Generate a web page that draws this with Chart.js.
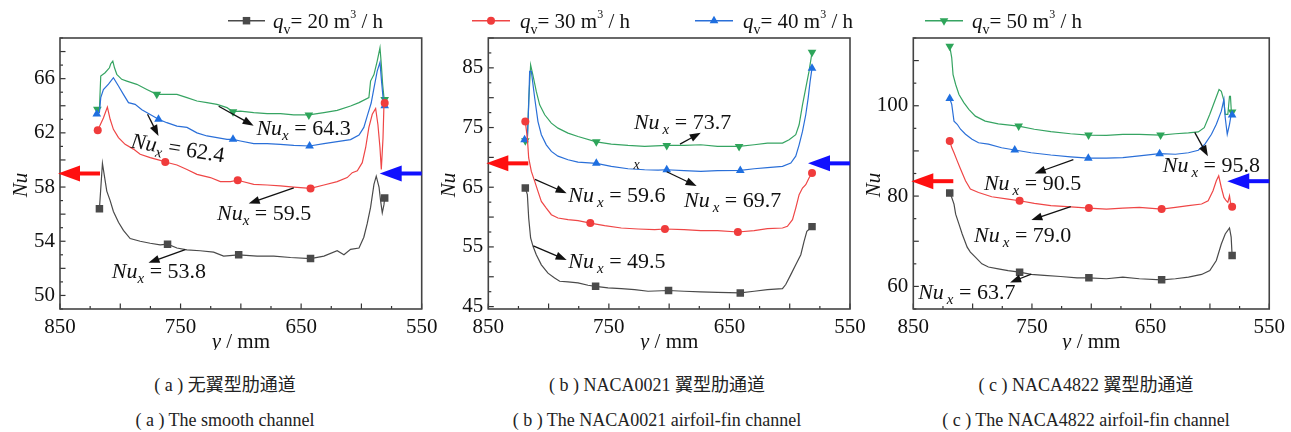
<!DOCTYPE html>
<html lang="zh-CN">
<head>
<meta charset="UTF-8">
<title>Nu 沿 y 分布</title>
<script src="https://cdn.jsdelivr.net/npm/chart.js"></script>
<style>
    body { margin: 0; background: #fff; }
    #fig { position: relative; width: 1291px; height: 432px; overflow: hidden;
           font-family: 'Liberation Serif', 'Noto Sans CJK SC', serif; }
    canvas { position: absolute; top: 0; }
    .cap { position: absolute; text-align: center; font-size: 18px; color: #222; white-space: nowrap; }
</style>
</head>
<body>
<div id="fig">
    <canvas id="cA" width="450" height="350" style="left:0px"></canvas>
    <canvas id="cB" width="450" height="350" style="left:430px"></canvas>
    <canvas id="cC" width="450" height="350" style="left:841px"></canvas>

    <div class="cap" style="left:75px;width:300px;top:370px">( a ) 无翼型肋通道</div>
    <div class="cap" style="left:507px;width:300px;top:370px">( b ) NACA0021 翼型肋通道</div>
    <div class="cap" style="left:936px;width:300px;top:370px">( c ) NACA4822 翼型肋通道</div>
    <div class="cap" style="left:75px;width:300px;top:410px">( a ) The smooth channel</div>
    <div class="cap" style="left:457px;width:400px;top:410px">( b ) The NACA0021 airfoil-fin channel</div>
    <div class="cap" style="left:886px;width:400px;top:410px">( c ) The NACA4822 airfoil-fin channel</div>
</div>

<script>
    // ---- data: [y (mm), Nu] ----
    // (a) smooth channel
    const smooth20 = [[817.3,56.4],[814.8,59.75],[811.2,57.7],[808.4,57.0],[805.7,56.2],[801.5,55.4],[797.4,54.8],[791.8,54.2],[783.5,54.0],[775.2,53.85],[766.9,53.73],[760.8,53.78],[753,53.5],[744.7,53.36],[733.7,53.3],[722.6,53.2],[714.3,52.9],[701.8,53.0],[686.5,52.9],[672.7,52.9],[658.8,52.8],[642.2,52.72],[631.1,52.9],[620.1,53.3],[614.5,53.0],[609,53.4],[602,53.5],[598,54.3],[595.2,55.3],[592.4,56.5],[589.6,58.2],[587.7,58.8],[585.4,58.0],[584.1,57.0],[582.7,56.1],[581.3,56.7],[580.7,57.2]];
    const smooth30 = [[818.7,62.19],[814,63.1],[810.7,63.9],[808.4,63.0],[805.7,62.26],[801.5,61.65],[796,61.15],[789.1,60.8],[783.5,60.42],[775.2,60.17],[766.9,59.97],[762.7,59.85],[753,59.63],[744.7,59.3],[736.4,58.94],[725.3,58.7],[717,58.4],[708.7,58.4],[702.6,58.5],[689.3,58.2],[678.2,58.15],[667.2,58.08],[656.1,58.0],[642.2,57.9],[631.1,58.15],[620.1,58.4],[611.8,58.7],[607.6,59.06],[603.4,59.2],[599.3,59.8],[596.5,60.9],[593.8,62.4],[591,63.37],[588.2,63.8],[586.3,62.6],[584.6,60.9],[583.5,59.3],[582.1,61.6],[581.3,64.1],[580.7,64.2]];
    const smooth40 = [[819.5,63.4],[817.3,63.5],[816.2,64.6],[814,65.2],[809.8,65.6],[805.7,66.07],[801.5,65.46],[797.4,64.84],[793.2,64.23],[787.7,64.1],[782.1,63.7],[775.2,63.36],[768.3,63.0],[761.4,62.75],[753,62.5],[744.7,62.4],[736.4,62.0],[728.1,61.77],[719.8,61.65],[711.5,61.52],[706.5,61.52],[700.4,61.4],[689.3,61.2],[678.2,61.2],[667.2,61.15],[656.1,61.08],[643,61.03],[631.1,61.2],[620.1,61.35],[609,61.5],[602,61.84],[598,62.4],[595.2,63.24],[591.9,64.2],[589.6,65.3],[586.9,66.56],[584.6,67.2],[583.3,65.8],[581.8,64.35],[580.7,64.0]];
    const smooth50 = [[819,63.74],[817.3,63.74],[816.2,66.2],[812.6,66.44],[809,66.8],[807.9,67.1],[806.2,67.3],[804.8,66.8],[802.9,66.32],[798.8,65.95],[794.6,65.82],[786.3,65.58],[778,65.2],[769.7,64.84],[761.4,64.84],[753,64.84],[744.7,64.6],[736.4,64.35],[728.1,64.23],[719.8,64.1],[711.5,63.86],[706.5,63.56],[700.4,63.6],[689.3,63.49],[678.2,63.42],[667.2,63.42],[656.1,63.32],[643.6,63.32],[631.1,63.49],[620.1,63.66],[609,63.98],[602,64.23],[593.8,64.6],[592.4,65.82],[589.6,66.3],[586.9,67.3],[584.6,68.28],[583.5,67.05],[582.4,65.58],[581.3,64.6],[580.7,64.47]];
    const smoothMk20 = [817.3, 760.8, 701.8, 642.2, 580.7];
    const smoothMk30 = [818.7, 762.7, 702.6, 642.2, 580.7];
    const smoothMk40 = [819.5, 768.3, 706.5, 643, 580.7];
    const smoothMk50 = [819, 769.7, 706.5, 643.6, 580.7];

    // (b) NACA0021
    const n0021_20 = [[819.3,64.87],[817.6,63.75],[816.5,59.85],[814.9,56.5],[812.9,55.1],[810.2,53.7],[806,52.0],[800.5,50.6],[795,49.8],[790.8,49.25],[783.9,49.13],[775.6,48.97],[767.3,48.58],[761,48.4],[750.7,48.13],[739.7,48.0],[728.6,47.85],[717.5,47.57],[700.5,47.7],[687.6,47.57],[673.8,47.46],[659.9,47.4],[641,47.3],[629.5,47.57],[618.5,47.85],[606,48.0],[603.3,48.7],[599.1,50.36],[595,52.0],[590.8,53.7],[588.1,55.94],[585.8,57.6],[581.5,58.4]];
    const n0021_30 = [[819.3,76.0],[817.6,73.23],[816.5,69.9],[814.3,67.65],[811.5,65.98],[808.8,64.3],[806,62.63],[801.9,61.5],[797.7,60.4],[792.2,59.84],[783.9,59.56],[775.6,59.4],[765.4,59.0],[753.5,58.56],[739.7,58.17],[725.8,58.0],[712,57.89],[703.5,58.0],[687.6,57.9],[673.8,57.72],[659.9,57.72],[643,57.5],[629.5,57.72],[618.5,58.06],[606,58.17],[601.9,58.45],[597.7,59.56],[595,61.5],[592.2,63.75],[589.4,64.86],[586.7,65.42],[584,66.54],[581.5,67.38]];
    const n0021_40 = [[819.9,72.95],[817.6,73.2],[816.5,78.8],[815.7,84.4],[814.3,84.4],[811.5,79.9],[808.8,76.0],[806,73.8],[801.9,72.1],[797.7,71.0],[792.2,70.2],[783.9,69.6],[775.6,69.2],[760.4,69.0],[748,68.5],[734.1,68.1],[720.3,67.93],[709.2,67.88],[702,67.93],[687.6,67.77],[673.8,67.66],[659.9,67.77],[641,67.82],[629.5,68.1],[618.5,68.3],[606,68.5],[599.1,69.05],[595,70.2],[592.2,72.1],[589.4,74.35],[586.7,77.14],[584.7,79.93],[583.1,82.7],[581.5,84.95]];
    const n0021_50 = [[819.3,72.8],[817.6,72.95],[816.5,79.4],[814.9,85.5],[813,83.8],[810.2,81.05],[807.4,78.8],[803.2,77.14],[797.7,75.74],[792.2,74.9],[783.9,74.07],[775.6,73.5],[760.4,72.6],[748,72.23],[734.1,72.0],[720.3,71.84],[702,72.0],[687.6,72.0],[673.8,72.12],[659.9,71.84],[642,71.84],[629.5,72.12],[618.5,72.4],[606,72.4],[600.5,72.95],[595,73.8],[592.2,75.46],[589.4,78.8],[586.7,81.6],[584,84.4],[581.5,87.6]];
    const n0021Mk20 = [819.3, 761, 700.5, 641, 581.5];
    const n0021Mk30 = [819.3, 765.4, 703.5, 643, 581.5];
    const n0021Mk40 = [819.9, 760.4, 702, 641, 581.5];
    const n0021Mk50 = [819.3, 760.4, 702, 642, 581.5];

    // (c) NACA4822
    const n4822_20 = [[819.3,80.66],[817.6,79.7],[815.7,78.24],[814.3,76.0],[811.5,73.8],[808.8,71.6],[804.6,68.7],[801.9,67.6],[797.7,66.5],[792.2,65.0],[786.7,64.3],[778.4,63.9],[770.1,63.5],[760.4,63.16],[750.7,62.65],[739.7,62.43],[725.8,62.2],[712,61.9],[702,61.9],[687.2,61.7],[673.4,62.06],[659.5,61.7],[640.7,61.47],[629.1,61.7],[618.1,62.06],[607,62.65],[600.1,63.5],[594.6,65.74],[590.4,69.4],[587.1,71.6],[583.5,72.94],[582.1,70.9],[581.3,66.84]];
    const n4822_30 = [[819.3,92.2],[817.6,90.74],[815.7,89.6],[813,87.8],[810.2,86.0],[806,83.4],[801.9,81.54],[795,80.8],[783.9,79.85],[770.1,79.34],[760.4,78.97],[748,78.4],[734.1,77.87],[720.3,77.65],[702,77.35],[687.2,77.13],[673.4,77.35],[659.5,77.5],[640.7,77.13],[629.1,77.5],[618.1,77.87],[607,78.24],[601.5,78.97],[597.4,81.2],[594.6,83.4],[592.6,84.5],[590.4,81.9],[588.2,79.7],[586.3,78.97],[584.9,78.6],[583.5,80.07],[582.7,78.6],[581.3,77.65]];
    const n4822_40 = [[819.3,101.6],[817.6,100.3],[815.7,96.6],[813,95.9],[810.2,94.8],[806,93.7],[800.5,92.6],[795,91.8],[786.7,91.5],[775.6,90.7],[764.5,90.2],[750.7,89.6],[734.1,89.1],[717.5,88.7],[702.5,88.4],[687.2,88.4],[673.4,88.5],[659.5,88.9],[642.4,89.4],[629.1,89.26],[618.1,89.6],[609.8,90.15],[604.2,91.5],[598.7,93.7],[594.6,95.9],[590.4,98.8],[588.2,101.4],[587.1,97.35],[585.4,93.7],[583.5,95.9],[582.1,98.1],[581.3,97.94],[579.6,97.8]];
    const n4822_50 = [[819.3,113.2],[817.6,110.6],[816.5,106.9],[814.3,104.7],[811.5,102.5],[807.4,100.7],[803.2,99.2],[797.7,97.7],[789.4,96.6],[778.4,96.0],[761.2,95.5],[748,94.8],[734.1,94.26],[717.5,93.8],[702.3,93.5],[687.2,93.46],[673.4,93.68],[659.5,93.68],[641.6,93.5],[629.1,93.8],[618.1,94.0],[609.8,94.2],[604.8,95.15],[600.1,98.1],[596,101.0],[592.3,103.6],[590.4,103.2],[588.5,101.4],[587.1,98.1],[584.9,98.1],[583.5,102.1],[582.7,102.1],[581.9,98.5],[581.3,98.6]];
    const n4822Mk20 = [819.3, 760.4, 702, 640.7, 581.3];
    const n4822Mk30 = [819.3, 760.4, 702, 640.7, 581.3];
    const n4822Mk40 = [819.3, 764.5, 702.5, 642.4, 581.3];
    const n4822Mk50 = [819.3, 761.2, 702.3, 641.6, 581.3];

    // flow rates in the legends
    const flowRates = ['20', '30', '40', '50'];

    // local Nu_x labels: [value, text y(mm), text Nu, arrow from y, Nu, arrow to y, Nu, rotation]
    const notesA = [['64.3', 687.1, 61.87, 718.4, 63.96, 689.4, 62.53, 0],
                    ['62.4', 791.8, 60.91, 777.4, 63.37, 768.3, 61.77, 9],
                    ['59.5', 719.8, 55.6, 656.1, 57.94, 693.5, 56.78, 0],
                    ['53.8', 807.0, 51.32, 746.1, 53.39, 776.6, 52.41, 0]];
    const notesB = [['73.7', 729.2, 74.69, 691.0, 72.23, 673.8, 74.12, 0],
                    ['69.7', 687.7, 61.64, 702.0, 67.59, 677.2, 65.2, 0],
                    ['59.6', 783.6, 62.57, 811.3, 66.32, 785.0, 63.98, 0],
                    ['49.5', 783.6, 51.43, 812.7, 55.16, 785.0, 52.82, 0]];
    const notesC = [['95.8', 639.8, 85.28, 612.8, 94.11, 601.7, 88.81, 0],
                    ['90.5', 790.5, 81.31, 715.1, 88.09, 747.7, 85.0, 0],
                    ['79.0', 798.8, 69.84, 717.3, 77.65, 750.5, 74.69, 0],
                    ['63.7', 845.9, 57.2, 750.5, 62.71, 768.4, 60.88, 0]];

    const SERIF = "'Liberation Serif', 'DejaVu Serif', serif";
    const STY = {
        k: { line: '#4a4a4a', mk: '#4a4a4a', style: 'rect', r: 5.3, rot: 0 },
        r: { line: '#ef4646', mk: '#f03c3c', style: 'circle', r: 4, rot: 0 },
        b: { line: '#2a6fd8', mk: '#1f6fe0', style: 'triangle', r: 5, rot: 0 },
        g: { line: '#36a462', mk: '#2ea55a', style: 'triangle', r: 5, rot: 180 }
    };

    function isMult(v, base, step) {
        const q = (v - base) / step;
        return Math.abs(q - Math.round(q)) < 1e-6;
    }

    function serie(pts, mk, s) {
        return {
            data: pts.map(p => ({ x: p[0], y: p[1] })),
            borderColor: s.line,
            borderWidth: 1.2,
            backgroundColor: s.mk,
            pointBackgroundColor: s.mk,
            pointBorderColor: s.mk,
            pointBorderWidth: 0,
            pointStyle: s.style,
            pointRotation: s.rot,
            pointRadius: ctx => (ctx.raw && mk.includes(ctx.raw.x)) ? s.r : 0,
            tension: 0,
            fill: false
        };
    }

    function marker(ctx, s, x, y) {
        ctx.fillStyle = s.mk;
        ctx.beginPath();
        if (s.style === 'rect') {
            const h = s.r * Math.SQRT1_2;
            ctx.rect(x - h, y - h, 2 * h, 2 * h);
        } else if (s.style === 'circle') {
            ctx.arc(x, y, s.r, 0, Math.PI * 2);
        } else {
            const d = s.rot ? -1 : 1;
            ctx.moveTo(x, y - d * s.r);
            ctx.lineTo(x + s.r * 0.866, y + d * s.r * 0.5);
            ctx.lineTo(x - s.r * 0.866, y + d * s.r * 0.5);
            ctx.closePath();
        }
        ctx.fill();
    }

    function arrow(ctx, x1, y1, x2, y2, head, half, lw) {
        const a = Math.atan2(y2 - y1, x2 - x1);
        ctx.lineWidth = lw;
        ctx.beginPath();
        ctx.moveTo(x1, y1);
        ctx.lineTo(x2 - Math.cos(a) * head * 0.8, y2 - Math.sin(a) * head * 0.8);
        ctx.stroke();
        ctx.beginPath();
        ctx.moveTo(x2, y2);
        ctx.lineTo(x2 - head * Math.cos(a) + half * Math.sin(a), y2 - head * Math.sin(a) - half * Math.cos(a));
        ctx.lineTo(x2 - head * Math.cos(a) - half * Math.sin(a), y2 - head * Math.sin(a) + half * Math.cos(a));
        ctx.closePath();
        ctx.fill();
    }

    // pieces of mixed text: [text, font, dy, extra gap]
    function richText(ctx, x, y, parts) {
        let cx = x;
        parts.forEach(p => {
            ctx.font = p[1];
            ctx.fillText(p[0], cx, y + (p[2] || 0));
            cx += ctx.measureText(p[0]).width + (p[3] || 0);
        });
        return cx;
    }

    const decor = {
        id: 'decor',
        afterDraw(chart, args, o) {
            const { ctx, chartArea: a, scales: { x, y } } = chart;
            const left = chart.canvas.offsetLeft;
            ctx.save();

            // frame + inward ticks
            ctx.strokeStyle = '#333';
            ctx.lineWidth = 1.2;
            x.ticks.forEach(t => {
                if (!isMult(t.value, 550, 25)) return;
                const len = isMult(t.value, 550, 50) ? 5.5 : 3;
                const px = x.getPixelForValue(t.value);
                ctx.beginPath(); ctx.moveTo(px, a.bottom); ctx.lineTo(px, a.bottom - len); ctx.stroke();
            });
            y.ticks.forEach(t => {
                if (!isMult(t.value, o.yBase, o.yStep)) return;
                const len = isMult(t.value, o.yBase, o.yStep * 2) ? 5.5 : 3;
                const py = y.getPixelForValue(t.value);
                ctx.beginPath(); ctx.moveTo(a.left, py); ctx.lineTo(a.left + len, py); ctx.stroke();
            });
            ctx.lineWidth = 1.6;
            ctx.strokeStyle = '#444';
            ctx.strokeRect(a.left, a.top, a.width, a.height);

            // flow direction arrows
            const fy = y.getPixelForValue(o.flowY);
            ctx.strokeStyle = ctx.fillStyle = '#ff1010';
            arrow(ctx, a.left + 40, fy, a.left - 2, fy, 22, 8, 4);
            ctx.strokeStyle = ctx.fillStyle = '#1010ff';
            arrow(ctx, a.right, fy, a.right - 42, fy, 22, 8, 4);

            // Nu_x notes
            ctx.fillStyle = '#111';
            ctx.strokeStyle = '#111';
            ctx.textBaseline = 'alphabetic';
            ctx.textAlign = 'left';
            o.notes.forEach(n => {
                const tx = x.getPixelForValue(n[1]), ty = y.getPixelForValue(n[2]);
                ctx.save();
                ctx.translate(tx, ty);
                ctx.rotate(n[7] * Math.PI / 180);
                richText(ctx, 0, 0, [['Nu', 'italic 22px ' + SERIF, 0, o.gap],
                                     ['x', 'italic 15px ' + SERIF, 5],
                                     [' = ' + n[0], '22px ' + SERIF, 0]]);
                ctx.restore();
                arrow(ctx, x.getPixelForValue(n[3]), y.getPixelForValue(n[4]),
                      x.getPixelForValue(n[5]), y.getPixelForValue(n[6]), 11, 4, 1.3);
            });
            if (o.stray) {
                ctx.font = 'italic 14px ' + SERIF;
                ctx.textAlign = 'center';
                ctx.fillText('x', x.getPixelForValue(o.stray[0]), y.getPixelForValue(o.stray[1]));
                ctx.textAlign = 'left';
            }

            // axis titles
            ctx.fillStyle = '#111';
            ctx.font = 'italic 21px ' + SERIF;
            const cxm = (a.left + a.right) / 2;
            const w1 = ctx.measureText('y').width;
            ctx.font = '21px ' + SERIF;
            const w2 = ctx.measureText(' / mm').width;
            richText(ctx, cxm - (w1 + w2) / 2, 348, [['y', 'italic 21px ' + SERIF], [' / mm', '21px ' + SERIF]]);
            ctx.save();
            ctx.translate(a.left - 33, 185);
            ctx.rotate(-Math.PI / 2);
            ctx.textAlign = 'center';
            ctx.font = 'italic 21px ' + SERIF;
            ctx.fillText('Nu', 0, 0);
            ctx.restore();

            // legend entries
            o.legend.forEach(l => {
                const s = STY[l.key];
                const ly = 20.7;
                ctx.strokeStyle = s.line;
                ctx.lineWidth = 1.4;
                ctx.beginPath(); ctx.moveTo(l.x1 - left, ly); ctx.lineTo(l.x2 - left, ly); ctx.stroke();
                marker(ctx, s, (l.x1 + l.x2) / 2 - left, ly);
                ctx.fillStyle = '#111';
                richText(ctx, l.tx - left, ly + 7, [['q', 'italic 21px ' + SERIF],
                                                    ['v', '14px ' + SERIF, 6],
                                                    ['= ' + l.q + ' m', '21px ' + SERIF],
                                                    ['3', '12px ' + SERIF, -10],
                                                    [' / h', '21px ' + SERIF]]);
            });
            ctx.restore();
        }
    };

    const panels = [
        { id: 'cA', yW: 60, padR: 28.3, yMin: 49, yMax: 69, yStep: 1, yBase: 50, flowY: 59, gap: 0,
          sets: [serie(smooth20, smoothMk20, STY.k), serie(smooth30, smoothMk30, STY.r),
                 serie(smooth40, smoothMk40, STY.b), serie(smooth50, smoothMk50, STY.g)],
          notes: notesA,
          legend: [{ key: 'k', q: flowRates[0], x1: 228, x2: 265, tx: 273 }] },
        { id: 'cB', yW: 58.3, padR: 30, yMin: 44.6, yMax: 90, yStep: 2.5, yBase: 45, flowY: 69, gap: 3,
          sets: [serie(n0021_20, n0021Mk20, STY.k), serie(n0021_30, n0021Mk30, STY.r),
                 serie(n0021_40, n0021Mk40, STY.b), serie(n0021_50, n0021Mk50, STY.g)],
          notes: notesB, stray: [726.9, 68.05],
          legend: [{ key: 'r', q: flowRates[1], x1: 472, x2: 510, tx: 520 },
                   { key: 'b', q: flowRates[2], x1: 695, x2: 733, tx: 743 }] },
        { id: 'cC', yW: 72.3, padR: 16, yMin: 55, yMax: 115, yStep: 5, yBase: 60, flowY: 83.3, gap: 3,
          sets: [serie(n4822_20, n4822Mk20, STY.k), serie(n4822_30, n4822Mk30, STY.r),
                 serie(n4822_40, n4822Mk40, STY.b), serie(n4822_50, n4822Mk50, STY.g)],
          notes: notesC,
          legend: [{ key: 'g', q: flowRates[3], x1: 925, x2: 963, tx: 972 }] }
    ];

    const tickFont = { family: SERIF, size: 21 };

    function drawAll() {
        panels.forEach(p => {
            new Chart(document.getElementById(p.id), {
                type: 'line',
                data: { datasets: p.sets },
                plugins: [decor],
                options: {
                    responsive: false,
                    animation: false,
                    devicePixelRatio: 1,
                    layout: { padding: { top: 38, right: p.padR, left: 0, bottom: 0 } },
                    plugins: { legend: { display: false }, tooltip: { enabled: false }, decor: p },
                    scales: {
                        x: {
                            type: 'linear', reverse: true, min: 550, max: 850,
                            ticks: { stepSize: 25, autoSkip: false, maxRotation: 0, padding: 6, color: '#111', font: tickFont,
                                     callback: v => isMult(v, 550, 100) ? String(v) : '' },
                            grid: { display: false, drawTicks: false },
                            border: { display: false },
                            afterFit: s => { s.height = 41; }
                        },
                        y: {
                            min: p.yMin, max: p.yMax,
                            ticks: { stepSize: p.yStep, autoSkip: false, includeBounds: false, padding: 5, color: '#111', font: tickFont,
                                     callback: v => isMult(v, p.yBase, p.yStep * 4) ? String(v) : '' },
                            grid: { display: false, drawTicks: false },
                            border: { display: false },
                            afterFit: s => { s.width = p.yW; }
                        }
                    }
                }
            });
        });
    }

    Chart.defaults.font.family = SERIF;
    Promise.all([document.fonts.load("21px 'Liberation Serif'"), document.fonts.load("italic 21px 'Liberation Serif'")])
        .then(drawAll, drawAll);
</script>
</body>
</html>
